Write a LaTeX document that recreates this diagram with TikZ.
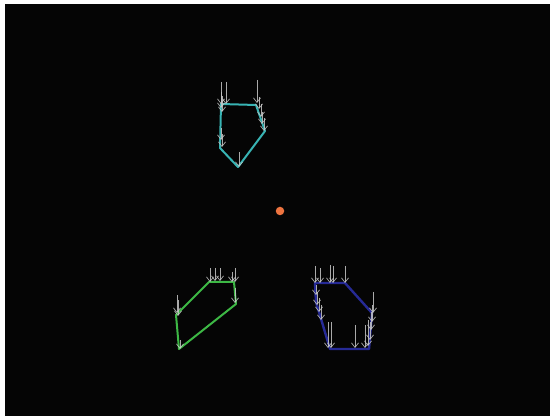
\documentclass[tikz,border=0pt]{standalone}
\usetikzlibrary{arrows.meta}
\definecolor{cyanpoly}{HTML}{38B4B4}
\definecolor{greenpoly}{HTML}{3DB845}
\definecolor{bluepoly}{HTML}{262A96}
\definecolor{dotorange}{HTML}{EE7440}
\definecolor{arrowgray}{HTML}{C8C8C8}
\tikzset{
  poly/.style={line width=2pt, line join=round},
  garrow/.style={draw=arrowgray, line width=0.7pt, -{Straight Barb[length=4.5pt,width=7pt]}, opacity=0.85},
}
\begin{document}
\begin{tikzpicture}[x=1pt,y=-1pt]
\fill[white] (0,0) rectangle (554,419);
\fill[black!98] (5,4) rectangle (550,416);
\useasboundingbox (0,0) rectangle (554,419);
% cyan polygon
\coordinate (c1) at (221,104); \coordinate (c2) at (256,105);
\coordinate (c3) at (265,131); \coordinate (c4) at (238,167);
\coordinate (c5) at (220,148);
\draw[poly, cyanpoly] (c1) -- (c2) -- (c3) -- (c4) -- (c5) -- cycle;
\foreach \x/\a/\b in {221/82/104, 226/82/104, 221/92/108, 222/96/112, 221/128/140, 222/134/147, 257/80/103, 259/97/109, 261/104/117, 262/112/124, 264/118/131, 239/152/167}
  \draw[garrow] (\x,\a) -- (\x,\b);
% green polygon
\coordinate (g1) at (209,282); \coordinate (g2) at (234,282);
\coordinate (g3) at (236,304); \coordinate (g4) at (179,349);
\coordinate (g5) at (176,315);
\draw[poly, greenpoly] (g1) -- (g2) -- (g3) -- (g4) -- (g5) -- cycle;
\foreach \x/\a/\b in {210/268/282, 215/268/281, 220/268/281, 232/272/282, 235/268/282, 177/295/313, 178/300/316, 235/288/303, 180/340/349}
  \draw[garrow] (\x,\a) -- (\x,\b);
% blue polygon
\coordinate (b1) at (315,283); \coordinate (b2) at (345,283);
\coordinate (b3) at (372,313); \coordinate (b4) at (369,349);
\coordinate (b5) at (330,349); \coordinate (b6) at (316,302);
\draw[poly, bluepoly, line width=2.4pt] (b1) -- (b2) -- (b3) -- (b4) -- (b5) -- (b6) -- cycle;
\foreach \x/\a/\b in {315/266/283, 320/268/283, 330/265/283, 333/266/283, 345/266/283, 316/285/295, 317/292/305, 319/298/312, 321/305/320, 328/322/348, 331/322/348, 355/325/348, 365/325/348, 368/320/346, 373/292/313, 372/305/322, 371/312/330, 370/322/340}
  \draw[garrow] (\x,\a) -- (\x,\b);
% centre dot
\node[circle, fill=dotorange, inner sep=0pt, minimum size=8.5pt] (dot) at (280,211) {};
\end{tikzpicture}
\end{document}
